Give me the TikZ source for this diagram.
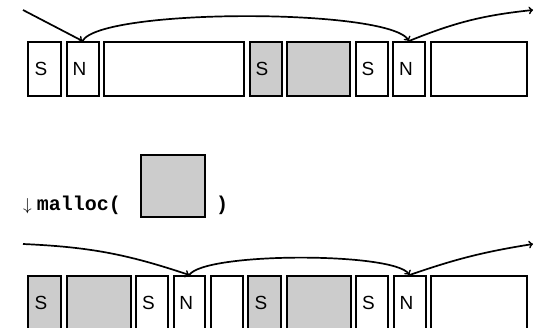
\documentclass[tikz,border=0pt]{standalone}
\usepackage{fontspec}
\setmainfont{Liberation Sans}
\setmonofont{Liberation Mono}
\usepackage{tikz}
\usetikzlibrary{positioning,arrows}

\tikzset{
	cell/.style={draw, line width=2pt, minimum height=54pt, minimum width=#1,
		inner sep=0pt, text width=20pt, align=left, font=\fontsize{19}{22}\selectfont},
	used/.style={cell=#1, fill=black!20},
	link/.style={->, line width=1.7pt}
}

\begin{document}
\begin{tikzpicture}[x=1pt,y=-1pt,node distance=3.5pt]
	\useasboundingbox (0,0) rectangle (535,327);
	% heap before
	\node[cell=33pt,anchor=north west] (ts1) at (27,41) {S};
	\node[cell=32pt] (tn1) [right=of ts1] {N};
	\node[cell=140pt] (tf1) [right=of tn1] {};
	\node[used=32pt] (ts2) [right=of tf1] {S};
	\node[used=63pt] (tu2) [right=of ts2] {};
	\node[cell=32pt] (ts3) [right=of tu2] {S};
	\node[cell=32pt] (tn2) [right=of ts3] {N};
	\node[cell=96pt] (tf2) [right=of tn2] {};
	\coordinate (topin) at (23,10);
	\coordinate (topout) at (533,10);
	\draw[link] (topin) -- (tn1.north);
	\draw[link] (tn1.north) .. controls +(18,-33) and +(-20,-33) .. (tn2.north);
	\draw[link] (tn2.north) to[bend left=8] (topout);
	% request
	\node[anchor=base west, inner sep=0pt, font=\fontsize{19}{22}\selectfont] (call) at (23,210)
		{$\downarrow$\hspace{5pt}{\fontsize{20}{22}\selectfont\ttfamily\bfseries malloc(}};
	\node[used=64pt, minimum height=62pt, anchor=north west] (req) at (140,154) {};
	\node[anchor=base west, inner sep=0pt] (close) at (216,210)
		{\fontsize{20}{22}\selectfont\ttfamily\bfseries )};
	% heap after
	\node[used=33pt,anchor=north west] (bs1) at (27,275) {S};
	\node[used=64pt] (bu1) [right=of bs1] {};
	\node[cell=32pt] (bs2) [right=of bu1] {S};
	\node[cell=31.5pt] (bn1) [right=of bs2] {N};
	\node[cell=32pt] (bf1) [right=of bn1] {};
	\node[used=33pt] (bs3) [right=of bf1] {S};
	\node[used=64pt] (bu3) [right=of bs3] {};
	\node[cell=32pt] (bs4) [right=of bu3] {S};
	\node[cell=32pt] (bn2) [right=of bs4] {N};
	\node[cell=95.5pt] (bf2) [right=of bn2] {};
	\coordinate (botin) at (23,244);
	\coordinate (botout) at (533,244);
	\draw[link] (botin) to[bend left=8] (bn1.north);
	\draw[link] (bn1.north) .. controls +(15,-23) and +(-15,-23) .. (bn2.north);
	\draw[link] (bn2.north) to[bend left=5] (botout);
\end{tikzpicture}
\end{document}
